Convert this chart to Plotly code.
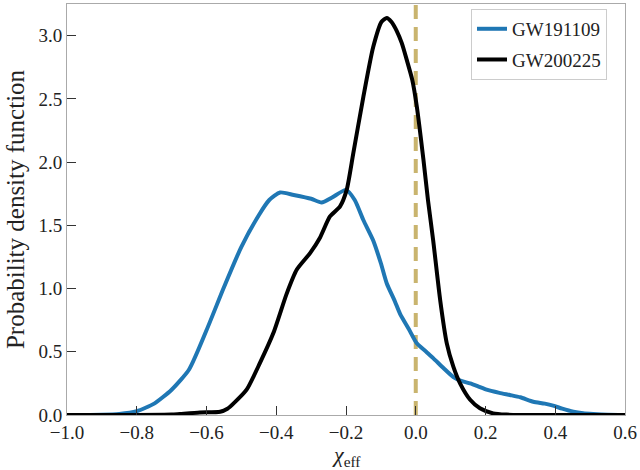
import plotly.graph_objects as go

# GW191109 (blue) chi_eff PDF
blue_x = [-1.0, -0.9, -0.85, -0.8, -0.75, -0.7, -0.65, -0.6, -0.55, -0.5, -0.45, -0.42, -0.389,
          -0.35, -0.3, -0.27, -0.24, -0.2, -0.175, -0.15, -0.122, -0.1, -0.083, -0.06, -0.045,
          -0.02, 0.003, 0.03, 0.05, 0.08, 0.108, 0.13, 0.156, 0.18, 0.203, 0.24, 0.27, 0.3,
          0.337, 0.37, 0.394, 0.42, 0.452, 0.48, 0.509, 0.55, 0.6]
blue_y = [0.0, 0.002, 0.008, 0.03, 0.09, 0.2, 0.36, 0.67, 1.01, 1.33, 1.58, 1.7, 1.76,
          1.74, 1.71, 1.68, 1.72, 1.78, 1.7, 1.54, 1.38, 1.2, 1.04, 0.9, 0.8,
          0.68, 0.567, 0.5, 0.45, 0.37, 0.3, 0.27, 0.25, 0.225, 0.2, 0.175, 0.158, 0.14,
          0.105, 0.09, 0.074, 0.05, 0.026, 0.014, 0.008, 0.002, 0.0]

# GW200225 (black) chi_eff PDF
black_x = [-1.0, -0.8, -0.7, -0.676, -0.619, -0.561, -0.54, -0.523, -0.485, -0.447, -0.408,
           -0.37, -0.341, -0.303, -0.275, -0.246, -0.217, -0.198, -0.179, -0.15, -0.122,
           -0.098, -0.083, -0.07, -0.055, -0.04, -0.026, -0.01, 0.003, 0.022, 0.035, 0.05,
           0.07, 0.089, 0.108, 0.127, 0.156, 0.184, 0.222, 0.26, 0.3, 0.6]
black_y = [0.0, 0.0, 0.003, 0.008, 0.02, 0.026, 0.05, 0.09, 0.2, 0.41, 0.65,
           0.96, 1.15, 1.28, 1.4, 1.57, 1.65, 1.78, 2.07, 2.52, 2.91,
           3.11, 3.14, 3.11, 3.04, 2.94, 2.81, 2.65, 2.44, 2.02, 1.7, 1.38,
           0.91, 0.567, 0.38, 0.25, 0.12, 0.053, 0.013, 0.003, 0.0, 0.0]

ref_x = [0.0, 0.0]
ref_y = [0.0, 3.25]

x_range = [-1.0, 0.6]
y_range = [0.0, 3.25]

font_family = "Liberation Serif, DejaVu Serif, serif"

fig = go.Figure()
fig.add_trace(go.Scatter(x=ref_x, y=ref_y, mode="lines", showlegend=False,
                         line=dict(color="#C9B46E", width=4, dash="14px,8px")))
fig.add_trace(go.Scatter(x=blue_x, y=blue_y, mode="lines", name="GW191109", legendgroup="a",
                         line=dict(color="#1f77b4", width=4, shape="spline", smoothing=0.6)))
fig.add_trace(go.Scatter(x=black_x, y=black_y, mode="lines", name="GW200225", legendgroup="b",
                         line=dict(color="#000000", width=4, shape="spline", smoothing=0.6)))

axis_common = dict(showline=True, mirror=True, linecolor="#aaaaaa", linewidth=1,
                   ticks="inside", ticklen=9, tickcolor="#333333", tickwidth=1,
                   showgrid=False, zeroline=False, automargin=False,
                   tickfont=dict(family=font_family, size=19, color="#222222"))

fig.update_layout(
    width=640, height=470,
    margin=dict(l=67, r=15, t=4, b=55),
    paper_bgcolor="white", plot_bgcolor="white",
    font=dict(family=font_family, color="#222222"),
    xaxis=dict(range=x_range, dtick=0.2, tick0=-1.0, tickformat=".1f", **axis_common),
    yaxis=dict(range=y_range, dtick=0.5, tick0=0, tickformat=".1f",
               title=dict(text="Probability density function", font=dict(family=font_family, size=25), standoff=6),
               **axis_common),
    legend=dict(x=0.724, y=0.988, xanchor="left", yanchor="top",
                bgcolor="white", bordercolor="#cccccc", borderwidth=1,
                font=dict(family=font_family, size=19, color="#222222"),
                itemwidth=30, tracegroupgap=3),
    annotations=[dict(text="<i>χ</i><sub>eff</sub>", xref="paper", yref="paper",
                      x=0.5, y=-0.1, xanchor="center", yanchor="middle", showarrow=False,
                      font=dict(family=font_family, size=22, color="#222222"))],
)

fig.write_html("out.html", config={"displayModeBar": False},
               post_script="document.body.style.margin='0';")
